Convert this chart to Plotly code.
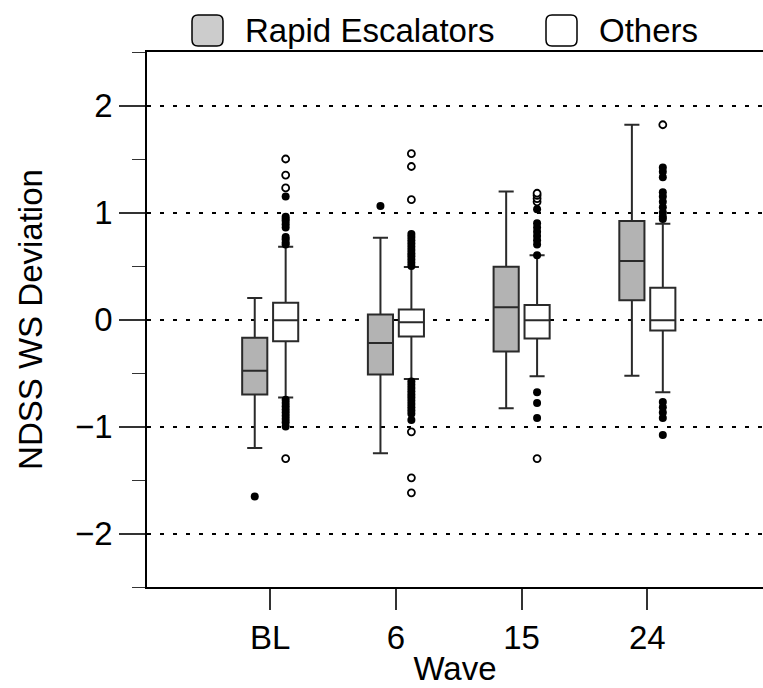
import plotly.graph_objects as go
import numpy as np

# ---- data ----
waves = ["BL", "6", "15", "24"]

# Rapid Escalators (grey boxes)
re_q1 = [-0.70, -0.515, -0.30, 0.18]
re_med = [-0.48, -0.22, 0.115, 0.546]
re_q3 = [-0.17, 0.047, 0.494, 0.92]
re_low = [-1.20, -1.25, -0.83, -0.525]
re_up = [0.20, 0.765, 1.196, 1.82]
re_out_filled = [[-1.655], [1.06], [], []]
re_out_open = [[], [], [], []]

# Others (white boxes)
ot_q1 = [-0.203, -0.16, -0.178, -0.103]
ot_med = [-0.006, -0.025, -0.006, -0.006]
ot_q3 = [0.156, 0.094, 0.135, 0.297]
ot_low = [-0.73, -0.556, -0.53, -0.68]
ot_up = [0.68, 0.49, 0.60, 0.896]
ot_out_filled = [
    [0.70, 0.72, 0.75, 0.77, 0.86, 0.89, 0.92, 0.94, 0.96, 1.15,
     -0.75, -0.78, -0.81, -0.84, -0.87, -0.90, -0.93, -0.96, -1.0],
    [0.50, 0.53, 0.56, 0.59, 0.62, 0.65, 0.68, 0.71, 0.74, 0.77, 0.80,
     -0.58, -0.61, -0.64, -0.67, -0.70, -0.73, -0.76, -0.79, -0.82, -0.85, -0.88, -0.94],
    [0.60, 0.70, 0.74, 0.78, 0.82, 0.86, 0.90, 1.03,
     -0.68, -0.78, -0.92],
    [0.94, 0.96, 1.0, 1.05, 1.10, 1.15, 1.19, 1.33, 1.38, 1.42,
     -0.77, -0.82, -0.87, -0.92, -1.08],
]
ot_out_open = [
    [1.23, 1.35, 1.50, -1.30],
    [1.12, 1.43, 1.55, -1.05, -1.48, -1.62],
    [1.10, 1.13, 1.16, 1.18, -1.30],
    [1.82],
]

# ---- layout constants ----
W, H = 763, 688
L, R, T, B = 147, 0, 52, 101
OFF = 0.123
BW = 0.2
GREY = "#b3b3b3"
LINE = "#2a2a2a"
FONT = "Liberation Sans, Arial, Helvetica, sans-serif"
FS = 33

pos = np.arange(1, len(waves) + 1)

fig = go.Figure()


def add_boxes(xs, q1, med, q3, low, up, fill):
    fig.add_trace(go.Box(
        x=list(xs), q1=q1, median=med, q3=q3, lowerfence=low, upperfence=up,
        width=BW, fillcolor=fill, line=dict(color=LINE, width=2),
        whiskerwidth=0.6, boxpoints=False, showlegend=False, hoverinfo="skip",
    ))


def add_points(xs, groups, filled):
    px, py = [], []
    for x, vals in zip(xs, groups):
        px += [x] * len(vals)
        py += vals
    if not py:
        return
    if filled:
        marker = dict(size=8, color="black", line=dict(width=0))
    else:
        marker = dict(size=7, color="white", symbol="circle",
                      line=dict(width=1.8, color="black"))
    fig.add_trace(go.Scatter(x=px, y=py, mode="markers", marker=marker,
                             showlegend=False, hoverinfo="skip"))


add_boxes(pos - OFF, re_q1, re_med, re_q3, re_low, re_up, GREY)
add_boxes(pos + OFF, ot_q1, ot_med, ot_q3, ot_low, ot_up, "white")
add_points(pos - OFF, re_out_filled, True)
add_points(pos - OFF, re_out_open, False)
add_points(pos + OFF, ot_out_filled, True)
add_points(pos + OFF, ot_out_open, False)

pw, ph = W - L - R, H - T - B


def to_paper(x, y):
    return (x - L) / pw, (H - B - y) / ph


def rounded_rect(x0, y0, x1, y1, r, fill):
    rx, ry = r / pw, r / ph
    a0, b1 = to_paper(x0, y0)
    a1, b0 = to_paper(x1, y1)
    path = (f"M {a0+rx},{b0} L {a1-rx},{b0} Q {a1},{b0} {a1},{b0+ry} "
            f"L {a1},{b1-ry} Q {a1},{b1} {a1-rx},{b1} L {a0+rx},{b1} "
            f"Q {a0},{b1} {a0},{b1-ry} L {a0},{b0+ry} Q {a0},{b0} {a0+rx},{b0} Z")
    return dict(type="path", xref="paper", yref="paper", path=path,
                fillcolor=fill, line=dict(color="black", width=1.5), layer="above")


shapes = [rounded_rect(192, 15, 223, 46, 6, "#cccccc"),
          rounded_rect(546, 15, 577, 46, 6, "white")]
annotations = []
for txt, xpx in [("Rapid Escalators", 243), ("Others", 597)]:
    ax, ay = to_paper(xpx, 31)
    annotations.append(dict(text=txt, x=ax, y=ay, xref="paper", yref="paper",
                            xanchor="left", yanchor="middle", showarrow=False,
                            font=dict(size=FS, color="black", family=FONT)))

fig.update_layout(
    width=W, height=H,
    margin=dict(l=L, r=R, t=T, b=B, pad=0),
    plot_bgcolor="white", paper_bgcolor="white",
    font=dict(family=FONT, size=FS, color="black"),
    shapes=shapes, annotations=annotations,
    xaxis=dict(
        range=[0.02, 4.92], tickvals=list(pos), ticktext=waves,
        showline=True, linecolor="black", linewidth=1.5, mirror=True,
        ticks="outside", ticklen=21, tickwidth=1.5, tickcolor="#333",
        showgrid=False, zeroline=False,
        title=dict(text="Wave", standoff=2, font=dict(size=FS)),
        tickfont=dict(size=FS),
    ),
    yaxis=dict(
        range=[-2.5, 2.5], dtick=1, tick0=0,
        showline=True, linecolor="black", linewidth=1.5,
        ticks="outside", ticklen=26, tickwidth=1.5, tickcolor="#333",
        showgrid=True, gridcolor="black", gridwidth=1.8, griddash="4px,9px",
        zeroline=False,
        minor=dict(dtick=0.5, tick0=0.5, ticks="outside", ticklen=13,
                   tickwidth=1.2, tickcolor="#333", showgrid=False),
        title=dict(text="NDSS WS Deviation", standoff=22, font=dict(size=FS)),
        tickfont=dict(size=FS),
        tickformat="d",
    ),
)

fig.write_html(
    "out.html",
    config={"displayModeBar": False},
    post_script="document.body.style.margin='0';document.body.style.overflow='hidden';",
)
